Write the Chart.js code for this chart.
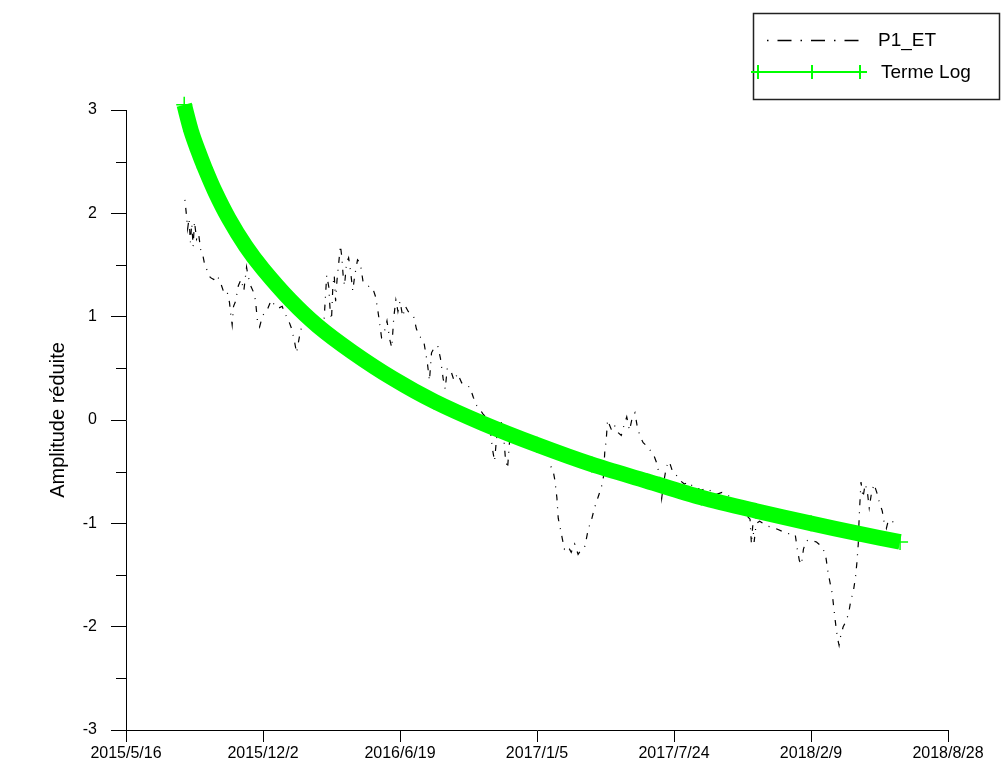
<!DOCTYPE html>
<html>
<head>
<meta charset="utf-8">
<script src="https://cdn.jsdelivr.net/npm/chart.js@4.4.0/dist/chart.umd.min.js"></script>
<style>
  html, body { margin: 0; padding: 0; background: #fff; }
</style>
</head>
<body>
<canvas id="chart" width="1002" height="778"></canvas>
<script>
// x axis is in days since 2015/5/16, one tick every 200 days
var xTickLabels = ["2015/5/16", "2015/12/2", "2016/6/19", "2017/1/5", "2017/7/24", "2018/2/9", "2018/8/28"];
var xTickStep = 200;

// P1_ET
var p1Days = [86, 88, 90, 92, 94, 96, 98, 100, 103, 106, 109, 112, 115, 119, 123, 128, 133, 138, 142, 147,
  151, 153, 155, 157, 160, 164, 168, 172, 176, 178, 182, 186, 189, 192, 195, 199, 203, 207, 212, 216,
  222, 228, 232, 237, 242, 246, 249, 253, 257, 262, 266, 270, 275, 280, 285, 289, 293, 296, 298, 300,
  302, 304, 306, 308, 311, 313, 315, 317, 319, 322, 325, 328, 331, 334, 338, 342, 346, 350, 355, 360,
  364, 367, 370, 373, 377, 381, 385, 388, 391, 394, 397, 400, 404, 408, 412, 416, 420, 424, 430, 435,
  440, 443, 446, 450, 455, 459, 463, 466, 469, 474, 479, 484, 490, 496, 502, 507, 512, 517, 521, 526,
  531, 535, 538, 542, 546, 550, 554, 557, 560, 565, 590, 620, 623, 626, 629, 631, 634, 637, 640, 645,
  650, 655, 660, 665, 670, 675, 679, 684, 689, 694, 697, 699, 701, 703, 706, 709, 713, 718, 723, 727,
  731, 735, 739, 743, 746, 750, 755, 760, 766, 771, 775, 779, 782, 785, 789, 793, 798, 803, 808, 815,
  822, 828, 834, 840, 847, 855, 862, 870, 877, 884, 890, 896, 902, 907, 911, 913, 915, 917, 920, 925,
  930, 938, 945, 952, 959, 966, 972, 977, 980, 983, 986, 989, 993, 998, 1003, 1008, 1013, 1018, 1022, 1025,
  1028, 1031, 1033, 1035, 1037, 1039, 1041, 1043, 1047, 1051, 1055, 1058, 1062, 1065, 1067, 1069, 1070, 1071, 1073, 1076,
  1079, 1082, 1085, 1088, 1092, 1096, 1100, 1104, 1107, 1110, 1113, 1117, 1122];
var p1Values = [2.13, 2.00, 1.85, 1.95, 1.72, 1.90, 1.68, 1.92, 1.75, 1.80, 1.65, 1.60, 1.50, 1.44, 1.38, 1.36, 1.40, 1.33, 1.25, 1.26,
  1.14, 1.02, 0.92, 1.10, 1.15, 1.30, 1.36, 1.25, 1.48, 1.40, 1.30, 1.24, 1.16, 0.95, 0.90, 1.00, 1.05, 1.08, 1.16, 1.12,
  1.08, 1.10, 1.03, 0.97, 0.88, 0.76, 0.65, 0.80, 0.92, 1.00, 1.10, 1.02, 0.98, 0.97, 0.88, 0.95, 1.40, 1.29, 1.06, 0.97,
  1.30, 1.40, 1.15, 1.35, 1.55, 1.69, 1.58, 1.40, 1.30, 1.52, 1.57, 1.43, 1.25, 1.40, 1.55, 1.52, 1.34, 1.32, 1.29, 1.28,
  1.20, 1.09, 0.95, 0.80, 0.85, 0.96, 0.78, 0.70, 1.00, 1.16, 1.05, 1.15, 1.00, 1.10, 1.05, 1.02, 1.00, 0.88, 0.80, 0.75,
  0.55, 0.38, 0.65, 0.70, 0.72, 0.60, 0.40, 0.30, 0.50, 0.48, 0.38, 0.45, 0.36, 0.33, 0.32, 0.22, 0.14, 0.10, 0.06, 0.02,
  -0.05, -0.28, -0.40, -0.10, 0.00, -0.05, -0.38, -0.47, -0.20, -0.15, null, -0.45, -0.47, -0.58, -0.75, -0.95, -1.05, -1.15, -1.25, -1.22,
  -1.28, -1.20, -1.30, -1.25, -1.22, -1.05, -0.98, -0.85, -0.75, -0.65, -0.55, -0.30, -0.20, 0.00, -0.05, -0.10, -0.05, -0.12, -0.15, -0.05,
  0.03, -0.10, 0.02, 0.07, -0.05, -0.15, -0.22, -0.25, -0.30, -0.35, -0.42, -0.55, -0.76, -0.60, -0.45, -0.40, -0.50, -0.53, -0.58, -0.62,
  -0.60, -0.65, -0.66, -0.68, -0.66, -0.69, -0.72, -0.70, -0.73, -0.74, -0.78, -0.82, -0.88, -0.93, -0.96, -1.20, -1.02, -1.18, -1.00, -0.98,
  -1.00, -1.03, -1.04, -1.06, -1.08, -1.10, -1.10, -1.11, -1.25, -1.36, -1.40, -1.25, -1.17, -1.16, -1.17, -1.18, -1.21, -1.25, -1.34, -1.48,
  -1.58, -1.68, -1.80, -1.92, -2.03, -2.12, -2.18, -2.10, -2.00, -1.95, -1.87, -1.75, -1.65, -1.52, -1.38, -1.20, -1.00, -0.85, -0.60, -0.75,
  -0.62, -0.68, -0.85, -0.72, -0.62, -0.70, -0.80, -0.88, -1.00, -1.05, -0.97, -0.98, -0.99];

// Terme Log
var logDays = [85, 95, 105, 115, 130, 150, 175, 200, 240, 280, 330, 390, 450, 520, 600, 680, 760, 840, 920, 1000, 1070, 1130];
var logValues = [3.05, 2.80, 2.61, 2.44, 2.21, 1.95, 1.68, 1.46, 1.16, 0.91, 0.66, 0.40, 0.18, -0.03, -0.24, -0.43, -0.59, -0.75, -0.88, -1.00, -1.10, -1.18];

function toPoints(xs, ys) {
  var pts = [];
  for (var i = 0; i < xs.length; i++) {
    pts.push({ x: xs[i], y: ys[i] });
  }
  return pts;
}

var FONT = "'Liberation Sans', Arial, sans-serif";

// half-unit minor ticks on the y axis
var minorTicks = {
  id: "minorTicks",
  afterDraw: function (chart) {
    var ctx = chart.ctx;
    var y = chart.scales.y;
    ctx.save();
    ctx.strokeStyle = "#000";
    ctx.lineWidth = 1;
    for (var v = -2.5; v < 3; v += 1) {
      var py = Math.round(y.getPixelForValue(v)) + 0.5;
      ctx.beginPath();
      ctx.moveTo(y.right - 10, py);
      ctx.lineTo(y.right, py);
      ctx.stroke();
    }
    ctx.restore();
  },
};

// boxed legend in the top right corner
var legendBox = {
  id: "legendBox",
  afterDraw: function (chart) {
    var ctx = chart.ctx;
    ctx.save();
    ctx.fillStyle = "#fff";
    ctx.fillRect(754, 14, 245, 85);
    ctx.strokeStyle = "#222";
    ctx.lineWidth = 1.5;
    ctx.strokeRect(753.5, 13.5, 246, 86);

    // P1_ET sample
    ctx.strokeStyle = "#000";
    ctx.lineWidth = 1.5;
    ctx.setLineDash([1.5, 9, 14, 9]);
    ctx.beginPath();
    ctx.moveTo(767, 40.5);
    ctx.lineTo(859, 40.5);
    ctx.stroke();
    ctx.setLineDash([]);

    // Terme Log sample
    ctx.strokeStyle = "#00ff00";
    ctx.lineWidth = 2;
    ctx.beginPath();
    ctx.moveTo(757, 72);
    ctx.lineTo(862, 72);
    [758, 812, 860].forEach(function (cx) {
      ctx.moveTo(cx, 65);
      ctx.lineTo(cx, 79);
      ctx.moveTo(cx - 7, 72);
      ctx.lineTo(cx + 7, 72);
    });
    ctx.stroke();

    ctx.fillStyle = "#000";
    ctx.font = "19px " + FONT;
    ctx.textBaseline = "middle";
    ctx.textAlign = "left";
    ctx.fillText("P1_ET", 878, 41);
    ctx.fillText("Terme Log", 881, 73);
    ctx.restore();
  },
};

var ctx = document.getElementById("chart").getContext("2d");
var myChart = new Chart(ctx, {
  type: "line",
  data: {
    datasets: [
      {
        label: "P1_ET",
        data: toPoints(p1Days, p1Values),
        borderColor: "#000",
        borderWidth: 1.2,
        borderDash: [1, 7, 6, 7],
        pointRadius: 0,
        spanGaps: false,
        tension: 0,
        order: 2,
      },
      {
        label: "Terme Log",
        data: toPoints(logDays, logValues),
        borderColor: "#00ff00",
        borderWidth: 15.5,
        pointStyle: "cross",
        pointRadius: 8,
        pointBorderWidth: 1.5,
        pointBorderColor: "#00ff00",
        tension: 0.3,
        clip: false,
        order: 1,
      },
    ],
  },
  options: {
    responsive: false,
    animation: false,
    layout: { padding: { top: 110, right: 54, left: 0, bottom: 0 } },
    plugins: {
      legend: { display: false },
      tooltip: { enabled: false },
    },
    scales: {
      x: {
        type: "linear",
        min: 0,
        max: 1200,
        afterFit: function (scale) {
          scale.height = 48;
        },
        ticks: {
          stepSize: xTickStep,
          autoSkip: false,
          maxRotation: 0,
          color: "#000",
          padding: 2,
          font: { family: FONT, size: 16 },
          callback: function (value) {
            return xTickLabels[Math.round(value / xTickStep)];
          },
        },
        grid: { drawOnChartArea: false, tickLength: 12, color: "#000" },
        border: { display: true, color: "#000", width: 1 },
      },
      y: {
        min: -3,
        max: 3,
        afterFit: function (scale) {
          scale.width = 126;
        },
        ticks: {
          stepSize: 1,
          color: "#000",
          padding: 14,
          font: { family: FONT, size: 16 },
        },
        grid: { drawOnChartArea: false, tickLength: 15, color: "#000" },
        border: { display: true, color: "#000", width: 1 },
        title: {
          display: true,
          text: "Amplitude réduite",
          color: "#000",
          font: { family: FONT, size: 20 },
          padding: { top: 46, bottom: 0 },
        },
      },
    },
  },
  plugins: [minorTicks, legendBox],
});
</script>
</body>
</html>
